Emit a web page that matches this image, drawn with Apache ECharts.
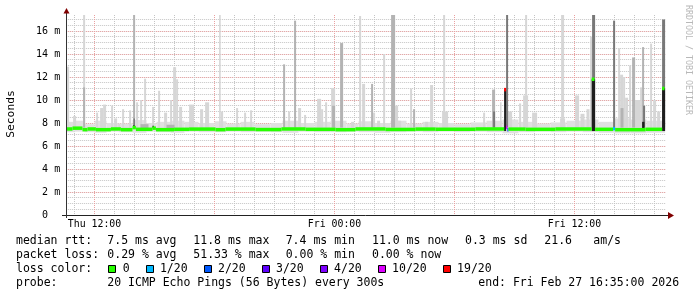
<!DOCTYPE html>
<html><head><meta charset="utf-8">
<script src="https://cdn.jsdelivr.net/npm/echarts@6/dist/echarts.min.js"></script>
<style>html,body{margin:0;padding:0;background:#fff}#c{width:697px;height:297px}</style>
</head><body><div id="c"></div>
<script>
// ---- axis ranges (hours since Thu 00:00) ----
const X_MIN = 10 + 35 / 60;   // Thu 10:35
const X_MAX = 40 + 35 / 60;   // Fri 16:35
const Y_MAX = 17.39;          // ms

// ---- tick labels ----
const xLabelHours = [12, 24, 36];
const xLabelText = ['Thu 12:00', 'Fri 00:00', 'Fri 12:00'];
const hourLines = [11,12,13,14,15,16,17,18,19,20,21,22,23,24,25,26,27,28,29,30,31,32,33,34,35,36,37,38,39,40];
const majorHourLines = [12, 18, 24, 30, 36];
const yLabelValues = [0, 2, 4, 6, 8, 10, 12, 14, 16];
const yLabelText = ['0  ', ' 2 m', ' 4 m', ' 6 m', ' 8 m', '10 m', '12 m', '14 m', '16 m'];

// ---- smoke: [startHour, endHour, low ms, high ms] ----
const smokeBase = [
  [10.58,11.0,7.2,8.1],[11.0,11.5,7.25,8.2],[11.5,12.0,7.2,7.9],[12.0,12.6,7.15,8.2],[12.6,13.2,7.25,8.0],
  [13.2,13.9,7.2,7.95],[13.9,14.6,7.15,8.25],[14.6,15.1,7.25,8.0],[15.1,15.8,7.2,8.1],[15.8,16.5,7.15,8.2],
  [16.5,17.2,7.25,8.1],[17.2,18.0,7.2,8.0],[18.0,18.6,7.2,8.15],[18.6,19.3,7.25,7.95],[19.3,20.0,7.2,8.1],
  [20.0,20.8,7.25,7.9],[20.8,21.4,7.2,8.0],[21.4,22.2,7.15,8.2],[22.2,23.0,7.25,8.0],[23.0,23.8,7.2,8.1],
  [23.8,24.6,7.2,8.2],[24.6,25.2,7.25,7.95],[25.2,26.0,7.2,8.15],[26.0,26.8,7.15,8.0],[26.8,27.6,7.2,8.2],
  [27.6,28.4,7.25,7.95],[28.4,29.2,7.2,8.1],[29.2,30.0,7.25,8.0],[30.0,30.8,7.2,7.9],[30.8,31.6,7.25,8.05],
  [31.6,32.4,7.2,8.2],[32.4,33.2,7.1,8.3],[33.2,34.0,7.2,8.1],[34.0,34.8,7.25,7.95],[34.8,35.6,7.2,8.05],
  [35.6,36.4,7.25,8.2],[36.4,37.2,7.2,8.3],[37.2,38.0,7.15,8.1],[38.0,38.8,7.1,8.4],[38.8,39.6,7.1,8.3],
  [39.6,40.53,7.15,8.2]
];
const smokeLight = [
  [10.58,10.73,7.6,12.9],[10.93,11.08,7.6,8.6],[11.43,11.53,7.6,17.39],[12.08,12.18,7.6,8.9],
  [12.28,12.43,7.6,9.3],[12.43,12.58,7.6,9.6],[12.83,12.93,7.6,9.5],[12.98,13.13,7.6,8.4],
  [13.18,13.28,7.6,7.9],[13.38,13.48,7.6,9.2],[13.73,13.83,7.6,9.1],[14.08,14.18,7.6,9.8],
  [14.28,14.38,7.6,10.0],[14.48,14.58,7.6,11.85],[14.88,14.98,7.6,9.4],[15.18,15.28,7.6,10.8],
  [15.48,15.63,7.6,8.9],[15.78,15.88,7.6,10.0],[15.93,16.08,7.6,12.85],[16.08,16.18,7.6,11.8],
  [16.23,16.38,7.6,9.4],[16.73,16.98,7.6,9.6],[17.28,17.43,7.6,9.2],[17.53,17.73,7.6,9.8],
  [18.23,18.31,7.6,17.39],[18.31,18.43,7.6,9.0],[19.08,19.18,7.6,9.3],[19.48,19.58,7.6,8.9],
  [19.78,19.88,7.6,9.1],[21.68,21.78,7.6,9.0],[22.18,22.33,7.6,9.3],[22.48,22.58,7.6,8.7],
  [23.13,23.33,7.6,10.1],[23.33,23.43,7.6,9.2],[23.53,23.63,7.6,9.8],[23.83,24.03,7.6,11.05],
  [24.83,24.98,7.6,8.1],[25.23,25.33,7.6,17.3],[25.38,25.53,7.6,11.4],[25.93,26.03,7.6,8.9],
  [26.13,26.28,7.6,8.2],[26.43,26.53,7.6,14.0],[27.03,27.18,7.6,9.5],[27.18,27.33,7.6,8.2],
  [27.78,27.88,7.6,11.0],[28.53,28.68,7.6,8.1],[28.78,28.93,7.6,11.3],[29.38,29.68,7.6,9.0],
  [29.43,29.53,7.6,17.39],[31.43,31.53,7.6,8.9],[32.28,32.35,7.6,9.8],[32.68,32.88,7.6,9.0],
  [33.23,33.33,7.6,9.7],[33.43,33.68,7.6,10.4],[33.53,33.63,7.6,17.39],[33.88,34.13,7.6,8.9],
  [35.28,35.53,7.6,8.4],[35.33,35.48,7.6,17.39],[36.03,36.23,7.6,10.4],[36.3,36.5,7.6,8.8],
  [36.6,36.75,7.6,9.2],[36.78,36.88,7.6,15.5],[38.18,38.28,7.6,14.5],[38.28,38.43,7.6,12.2],
  [38.43,38.53,7.6,12.0],[38.53,38.68,7.6,10.2],[38.73,38.83,7.6,13.0],[39.03,39.28,7.6,10.0],
  [39.28,39.38,7.6,11.1],[39.78,39.88,7.6,14.9],[39.93,40.08,7.6,10.0],[40.13,40.28,7.6,9.0]
];
const smokeMid = [
  [11.43,11.53,7.6,11.1],[13.93,14.03,7.6,17.39],[14.3,14.7,7.5,7.9],[15.6,16.0,7.5,7.85],
  [21.43,21.53,7.6,13.1],[21.98,22.08,7.6,16.9],[23.88,24.03,7.6,9.5],[24.28,24.43,7.6,14.95],
  [25.83,25.93,7.6,11.4],[26.83,27.03,7.6,17.39],[27.93,28.03,7.6,9.2],[31.88,32.03,7.6,10.9],
  [38.3,38.45,7.6,9.3],[38.88,39.03,7.6,13.7],[39.38,39.48,7.6,14.6]
];
const smokeDark = [
  [13.95,14.02,7.6,8.4],[31.93,32.03,7.6,9.0],[32.58,32.68,7.6,17.39],
  [36.88,37.03,7.6,17.39],[37.93,38.03,7.6,16.9],[39.43,39.53,7.6,9.5],[40.38,40.53,7.6,17.0]
];
const smokeBlack = [
  [13.93,14.0,7.62,7.8],[14.9,14.97,7.55,7.75],[32.48,32.58,7.3,10.9],[36.86,37.03,7.3,11.8],
  [38.4,38.45,7.3,7.45],[39.05,39.1,7.3,7.45],[39.38,39.5,7.5,8.1],[40.0,40.05,7.35,7.5],
  [40.38,40.53,7.3,11.0]
];

// ---- median rtt: [startHour, endHour, ms, lossLevelIndex] ----
const medianRuns = [
  [10.58,10.9,7.48,0],[10.9,11.4,7.55,0],[11.4,11.65,7.42,0],[11.65,12.07,7.48,0],[12.07,12.82,7.42,0],
  [12.82,13.32,7.48,0],[13.32,13.9,7.42,0],[13.9,14.07,7.6,0],[14.07,14.9,7.45,0],[14.9,15.07,7.55,0],
  [15.07,15.98,7.42,0],[15.98,16.73,7.45,0],[16.73,18.05,7.47,0],[18.05,18.55,7.42,0],[18.55,20.05,7.47,0],
  [20.05,21.35,7.43,0],[21.35,22.55,7.48,0],[22.55,24.05,7.45,0],[24.05,25.05,7.42,0],[25.05,26.55,7.48,0],
  [26.55,28.05,7.44,0],[28.05,29.05,7.47,0],[29.05,31.05,7.45,0],[31.05,32.48,7.48,0],[32.48,32.58,10.9,6],
  [32.58,32.64,7.62,5],[32.64,32.7,7.42,2],[32.7,33.55,7.47,0],[33.55,35.05,7.45,0],[35.05,36.86,7.47,0],
  [36.86,37.0,11.8,0],[37.03,37.93,7.45,0],[37.93,38.03,7.5,1],[38.03,39.55,7.42,0],[39.55,40.38,7.45,0],
  [40.38,40.5,11.0,0]
];
const lossColors = ['#26ff00','#00b8ff','#0059ff','#5e00ff','#7e00ff','#dd00ff','#ff0000'];
const lossLabels = ['0','1/20','2/20','3/20','4/20','10/20','19/20'];

const MONO = '"DejaVu Sans Mono", monospace';
const GRID_GRAY = '#c4c4c4';
const GRID_RED = '#e9a0a0';

function spanRenderer(color) {
  return function (params, api) {
    const a = api.coord([api.value(0), api.value(2)]);
    const b = api.coord([api.value(1), api.value(3)]);
    return { type: 'rect', shape: { x: a[0], y: b[1], width: b[0] - a[0], height: a[1] - b[1] }, style: { fill: color } };
  };
}
function spanSeries(data, color, z) {
  return { type: 'custom', data: data, z: z, silent: true, renderItem: spanRenderer(color) };
}

const chart = echarts.init(document.getElementById('c'), null, { renderer: 'canvas', width: 697, height: 297 });

const legendGraphics = [];
function txt(s, x, y, extra) {
  legendGraphics.push(Object.assign({ type: 'text', x: x, y: y, style: { text: s, font: '11.5px ' + MONO, fill: '#000', align: 'left', verticalAlign: 'middle' } }, extra || {}));
}
txt('median rtt:', 16, 241.3);
txt('7.5 ms avg', 107.3, 241.3); txt('11.8 ms max', 193.3, 241.3); txt('7.4 ms min', 285.7, 241.3);
txt('11.0 ms now', 372, 241.3); txt('0.3 ms sd', 465, 241.3); txt('21.6', 544.3, 241.3); txt('am/s', 593.3, 241.3);
txt('packet loss:', 16, 255.3);
txt('0.29 % avg', 107.3, 255.3); txt('51.33 % max', 193.3, 255.3); txt('0.00 % min', 285.7, 255.3); txt('0.00 % now', 372, 255.3);
txt('loss color:', 16, 269.3);
const boxX = [108.3, 145.5, 203.6, 261.6, 319.7, 377.7, 442.7];
lossLabels.forEach((l, i) => {
  legendGraphics.push({ type: 'rect', shape: { x: Math.round(boxX[i]) + 0.5, y: 265.5, width: 7, height: 7 },
    style: { fill: lossColors[i], stroke: '#000', lineWidth: 1 } });
  txt(l, boxX[i] + 14.4, 269.3);
});
txt('probe:', 16, 283);
txt('20 ICMP Echo Pings (56 Bytes) every 300s', 107.3, 283);
txt('end: Fri Feb 27 16:35:00 2026', 478.3, 283);
// axis title and watermark
legendGraphics.push({ type: 'text', x: 11, y: 114, rotation: Math.PI / 2,
  style: { text: 'Seconds', font: '11.3px ' + MONO, fill: '#000', align: 'center', verticalAlign: 'middle' } });
legendGraphics.push({ type: 'text', x: 688, y: 60, rotation: -Math.PI / 2,
  style: { text: 'RRDTOOL / TOBI OETIKER', font: '8.3px ' + MONO, fill: '#b8b8b8', align: 'center', verticalAlign: 'middle' } });
// axis lines and arrows
legendGraphics.push({ type: 'line', z: 20, shape: { x1: 62, y1: 215.5, x2: 669, y2: 215.5 }, style: { stroke: '#222', lineWidth: 1 } });
legendGraphics.push({ type: 'line', z: 20, shape: { x1: 66.5, y1: 218, x2: 66.5, y2: 13 }, style: { stroke: '#333', lineWidth: 1 } });
legendGraphics.push({ type: 'polygon', z: 20, shape: { points: [[668, 212], [674, 215.5], [668, 219]] }, style: { fill: '#800000' } });
legendGraphics.push({ type: 'polygon', z: 20, shape: { points: [[63.5, 13.5], [66.5, 8], [69.5, 13.5]] }, style: { fill: '#800000' } });

const option = {
  animation: false,
  backgroundColor: '#ffffff',
  grid: { left: 66.1667, top: 15, width: 600, height: 200, containLabel: false },
  xAxis: {
    type: 'value', min: X_MIN, max: X_MAX,
    axisLine: { show: false }, axisTick: { show: false }, splitLine: { show: false },
    axisLabel: {
      customValues: xLabelHours,
      formatter: v => { const i = xLabelHours.indexOf(Math.round(v * 1000) / 1000); return i >= 0 ? xLabelText[i] : ''; },
      fontFamily: MONO, fontSize: 9.9, color: '#000', margin: 4
    }
  },
  yAxis: [
    { type: 'value', min: 0, max: Y_MAX, interval: 0.5, position: 'right',
      axisLine: { show: false }, axisTick: { show: false }, axisLabel: { show: false },
      splitLine: { show: true, showMinLine: false, showMaxLine: false, lineStyle: { color: GRID_GRAY, width: 1, type: [1, 1] } } },
    { type: 'value', min: 0, max: Y_MAX, interval: 2, position: 'left', z: 1,
      axisLine: { show: false }, axisTick: { show: false },
      axisLabel: {
        formatter: v => { const i = yLabelValues.indexOf(v); return i >= 0 ? yLabelText[i] : ''; },
        fontFamily: MONO, fontSize: 10, color: '#000', margin: 6, showMaxLabel: false
      },
      splitLine: { show: true, showMinLine: false, showMaxLine: false, lineStyle: { color: GRID_RED, width: 1, type: [1, 1] } } }
  ],
  graphic: legendGraphics,
  series: [
    { type: 'custom', z: 1, silent: true,
      data: hourLines.map(h => [h, majorHourLines.indexOf(h) >= 0 ? 1 : 0]),
      renderItem: (params, api) => {
        const h = api.value(0), major = api.value(1);
        const t = api.coord([h, Y_MAX]), b = api.coord([h, 0]);
        const x = Math.floor(t[0]) + 0.5;
        return { type: 'line', shape: { x1: x, y1: t[1], x2: x, y2: b[1] },
          style: { stroke: major ? GRID_RED : GRID_GRAY, lineWidth: 1, lineDash: [1, 1] } };
      } },
    spanSeries(smokeBase, '#e0e0e0', 2),
    spanSeries(smokeLight, '#d6d6d6', 3),
    spanSeries(smokeMid, '#b3b3b3', 4),
    spanSeries(smokeDark, '#787878', 5),
    spanSeries(smokeBlack, '#1e1e1e', 6),
    { type: 'custom', z: 7, silent: true, data: medianRuns,
      renderItem: (params, api) => {
        const a = api.coord([api.value(0), api.value(2)]);
        const b = api.coord([api.value(1), api.value(2)]);
        return { type: 'rect', shape: { x: a[0], y: a[1] - 1.75, width: b[0] - a[0], height: 3.5 },
          style: { fill: lossColors[api.value(3)] } };
      } }
  ]
};
chart.setOption(option);
</script>
</body></html>
